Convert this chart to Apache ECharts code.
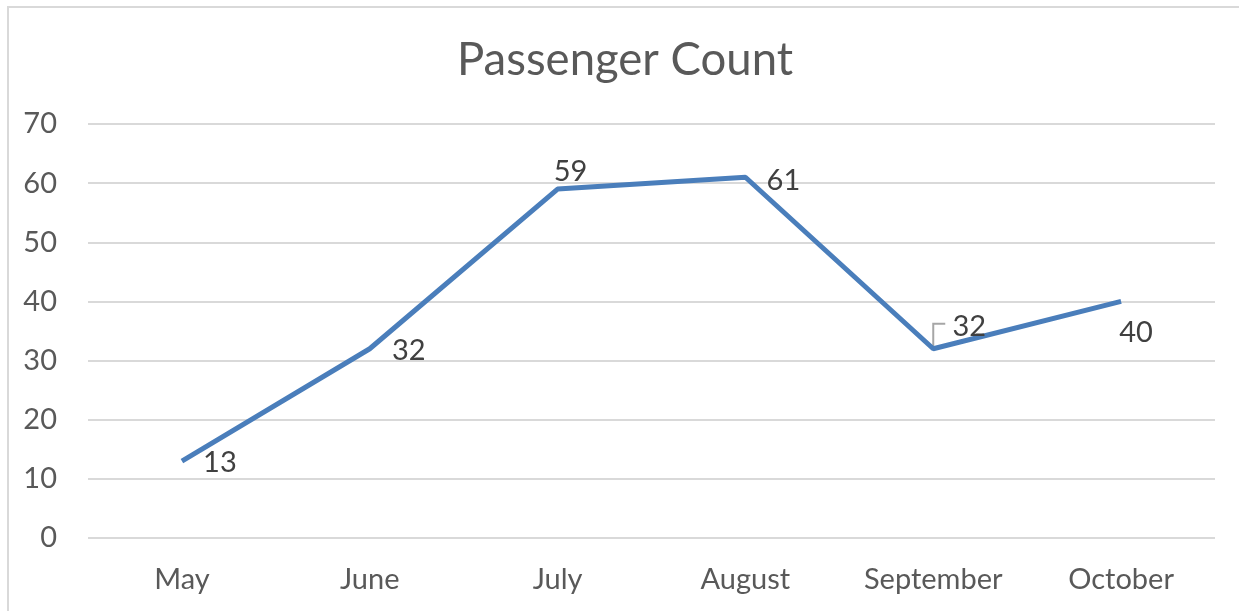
<!doctype html>
<html>
<head>
	<meta charset="UTF-8">
	<title>Passenger Count</title>
	<style>
		html, body {
			margin: 0;
			padding: 0;
			background: #fff;
		}
		#frame {
			position: absolute;
			left: 7px;
			top: 6px;
			width: 1240px;
			height: 610px;
			border-left: 2px solid #d9d9d9;
			border-top: 2px solid #d9d9d9;
		}
		#chart {
			position: absolute;
			left: 0;
			top: 0;
			width: 1239px;
			height: 611px;
		}
	</style>
</head>
<body>
<div id="frame"></div>
<div id="chart"></div>
<script src="https://cdn.jsdelivr.net/npm/echarts@6/dist/echarts.min.js"></script>
<script>
	var months = ['May', 'June', 'July', 'August', 'September', 'October'];
	var passengers = [13, 32, 59, 61, 32, 40];
	var yTicks = [0, 10, 20, 30, 40, 50, 60, 70];

	// label placement per point (style only)
	var labelOffsets = [[38, 2], [39, 2], [13, -17], [38, 3], [36, -22], [15, 31]];
	var calloutIndex = 4; // September label has an elbow leader line

	var seriesData = passengers.map(function (v, i) {
		return {
			value: v,
			label: {offset: labelOffsets[i]}
		};
	});

	var font = 'Lato';
	var chart = echarts.init(document.getElementById('chart'));
	chart.setOption({
		animation: false,
		title: {
			text: 'Passenger Count',
			left: 452,
			top: 32,
			textStyle: {
				fontFamily: font,
				fontSize: 45.5,
				fontWeight: 'normal',
				color: '#595959'
			}
		},
		grid: {
			left: 88,
			right: 24,
			top: 124,
			bottom: 73
		},
		xAxis: {
			type: 'category',
			data: months,
			boundaryGap: true,
			axisLine: {show: false},
			axisTick: {show: false},
			axisLabel: {
				margin: 27,
				fontFamily: font,
				fontSize: 29,
				color: '#595959'
			}
		},
		yAxis: {
			type: 'value',
			min: yTicks[0],
			max: yTicks[yTicks.length - 1],
			interval: 10,
			axisLine: {show: false},
			axisTick: {show: false},
			axisLabel: {
				margin: 31,
				fontFamily: font,
				fontSize: 29,
				color: '#595959'
			},
			splitLine: {
				lineStyle: {color: '#d9d9d9', width: 2}
			}
		},
		series: [{
			type: 'line',
			data: seriesData,
			symbol: 'circle',
			symbolSize: 1,
			showAllSymbol: true,
			itemStyle: {color: 'rgba(0,0,0,0)', borderWidth: 0},
			lineStyle: {color: '#4a7ebb', width: 5},
			z: 3,
			label: {
				show: true,
				position: 'inside',
				fontFamily: font,
				fontSize: 29,
				color: '#404040'
			}
		}]
	});

	// elbow leader line for the September label, anchored at the data point
	var p = chart.convertToPixel({seriesIndex: 0}, [calloutIndex, passengers[calloutIndex]]);
	var off = labelOffsets[calloutIndex];
	var elbowY = p[1] + off[1] - 3;
	chart.setOption({
		graphic: [{
			type: 'polyline',
			z: 1,
			shape: {points: [[p[0], p[1]], [p[0], elbowY], [p[0] + off[0] - 24, elbowY]]},
			style: {fill: null, stroke: '#a6a6a6', lineWidth: 2}
		}]
	});
</script>
</body>
</html>
